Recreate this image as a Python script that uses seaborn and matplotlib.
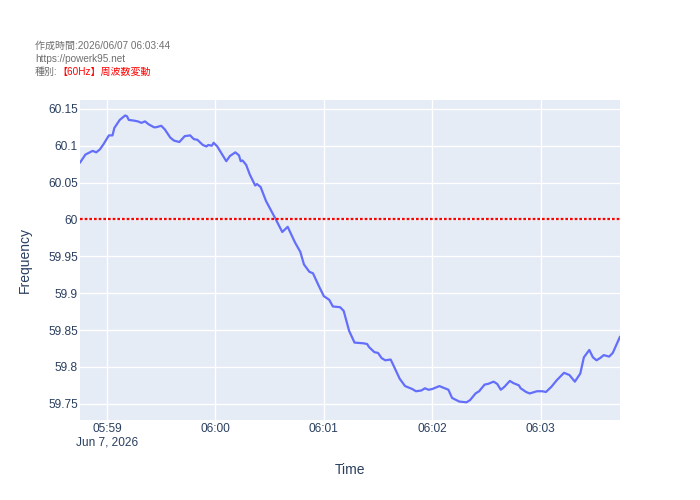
"""
周波数変動チャート (Plotly 風) を seaborn / matplotlib で再現する。
"""

import matplotlib
matplotlib.use("Agg")
import matplotlib.pyplot as plt
import matplotlib.dates as mdates
import matplotlib.ticker as mticker
import numpy as np
import pandas as pd
import seaborn as sns

# データ (2026-06-07)
times = [
    "05:58:45", "05:58:48", "05:58:52", "05:58:54", "05:58:56", "05:58:58", "05:59:01", "05:59:03", "05:59:04", "05:59:07",
    "05:59:10", "05:59:11", "05:59:12", "05:59:15", "05:59:17", "05:59:19", "05:59:21", "05:59:23", "05:59:26", "05:59:27",
    "05:59:30", "05:59:32", "05:59:35", "05:59:37", "05:59:40", "05:59:43", "05:59:46", "05:59:48", "05:59:50", "05:59:53",
    "05:59:55", "05:59:56", "05:59:58", "05:59:59", "06:00:01", "06:00:03", "06:00:06", "06:00:08", "06:00:11", "06:00:13",
    "06:00:14", "06:00:15", "06:00:17", "06:00:19", "06:00:22", "06:00:23", "06:00:25", "06:00:28", "06:00:33", "06:00:37",
    "06:00:40", "06:00:44", "06:00:47", "06:00:49", "06:00:52", "06:00:54", "06:00:57", "06:01:00", "06:01:03", "06:01:05",
    "06:01:09", "06:01:11", "06:01:14", "06:01:17", "06:01:22", "06:01:24", "06:01:25", "06:01:28", "06:01:30", "06:01:32",
    "06:01:34", "06:01:37", "06:01:38", "06:01:42", "06:01:45", "06:01:49", "06:01:51", "06:01:54", "06:01:56", "06:01:58",
    "06:02:00", "06:02:04", "06:02:09", "06:02:11", "06:02:15", "06:02:19", "06:02:21", "06:02:24", "06:02:26", "06:02:29",
    "06:02:31", "06:02:34", "06:02:36", "06:02:38", "06:02:40", "06:02:43", "06:02:45", "06:02:48", "06:02:49", "06:02:52",
    "06:02:54", "06:02:58", "06:03:01", "06:03:03", "06:03:06", "06:03:09", "06:03:13", "06:03:16", "06:03:19", "06:03:22",
    "06:03:24", "06:03:27", "06:03:29", "06:03:31", "06:03:33", "06:03:35", "06:03:38", "06:03:40", "06:03:44",
]
frequency = [
    60.077, 60.088, 60.093, 60.091, 60.095, 60.102, 60.114, 60.114, 60.124, 60.135,
    60.141, 60.140, 60.135, 60.134, 60.133, 60.131, 60.133, 60.129, 60.125, 60.125,
    60.127, 60.122, 60.111, 60.107, 60.105, 60.113, 60.114, 60.109, 60.108, 60.101,
    60.099, 60.101, 60.100, 60.104, 60.099, 60.091, 60.079, 60.086, 60.091, 60.087,
    60.079, 60.080, 60.074, 60.061, 60.046, 60.048, 60.044, 60.025, 60.002, 59.983,
    59.990, 59.969, 59.956, 59.939, 59.929, 59.927, 59.911, 59.896, 59.891, 59.882,
    59.881, 59.876, 59.849, 59.833, 59.832, 59.831, 59.827, 59.820, 59.819, 59.812,
    59.809, 59.810, 59.805, 59.784, 59.774, 59.770, 59.767, 59.768, 59.771, 59.769,
    59.770, 59.774, 59.769, 59.758, 59.753, 59.752, 59.755, 59.764, 59.767, 59.776,
    59.777, 59.780, 59.777, 59.769, 59.773, 59.781, 59.778, 59.775, 59.771, 59.766,
    59.764, 59.767, 59.767, 59.766, 59.773, 59.782, 59.792, 59.789, 59.780, 59.791,
    59.813, 59.823, 59.813, 59.809, 59.812, 59.816, 59.814, 59.819, 59.841,
]
date_str = "2026-06-07"
nominal_hz = 60.0
y_ticks = [59.75, 59.8, 59.85, 59.9, 59.95, 60.0, 60.05, 60.1, 60.15]

header_lines = ["作成時間:2026/06/07 06:03:44", "https://powerk95.net"]
kind_label = "種別:"
kind_value = "【60Hz】周波数変動"

df = pd.DataFrame({
    "Time": pd.to_datetime([f"{date_str} {t}" for t in times]),
    "Frequency": frequency,
})

# Plotly 風スタイル
sns.set_style("darkgrid", {
    "axes.facecolor": "#E5ECF6",
    "grid.color": "white",
    "axes.edgecolor": "#E5ECF6",
})
plt.rcParams["font.family"] = ["Liberation Sans", "Noto Sans CJK JP", "DejaVu Sans"]

fig = plt.figure(figsize=(7, 5), dpi=100)
ax = fig.add_axes([80 / 700, 80 / 500, 540 / 700, 320 / 500])

sns.lineplot(data=df, x="Time", y="Frequency", ax=ax, color="#636EFA", linewidth=1.6)
ax.axhline(nominal_hz, color="red", linewidth=1.6, linestyle=(0, (1.2, 0.9)))

ax.set_xlim(df["Time"].iloc[0], df["Time"].iloc[-1])
ax.set_ylim(59.728, 60.162)

# 軸
ax.set_yticks(y_ticks)
ax.yaxis.set_major_formatter(mticker.FuncFormatter(
    lambda v, p: f"{v:.2f}".rstrip("0").rstrip(".")))
ax.xaxis.set_major_locator(mdates.MinuteLocator())


def fmt_time(v, pos):
    d = mdates.num2date(v)
    label = d.strftime("%H:%M")
    if pos == 0:
        label += "\n" + d.strftime("%b ") + str(d.day) + d.strftime(", %Y")
    return label


ax.xaxis.set_major_formatter(mticker.FuncFormatter(fmt_time))
ax.tick_params(axis="both", length=0, labelsize=8.6, colors="#2a3f5f")
ax.tick_params(axis="y", pad=1.5)
ax.tick_params(axis="x", pad=2)
ax.grid(True, color="white", linewidth=1)
for s in ax.spines.values():
    s.set_visible(False)

ax.set_xlabel("Time", fontsize=10, color="#2a3f5f", va="center")
ax.set_ylabel("Frequency", fontsize=10, color="#2a3f5f", va="center")
ax.xaxis.set_label_coords(0.5, -0.156)
ax.yaxis.set_label_coords(-0.102, 0.5)

# ヘッダー注記
gray = "#6f6f6f"
fig.text(35 / 700, 1 - 46 / 500, header_lines[0], fontsize=7.2, color=gray, va="center")
fig.text(35 / 700, 1 - 59 / 500, header_lines[1], fontsize=7.2, color=gray, va="center")
kind = fig.text(35 / 700, 1 - 72 / 500, kind_label, fontsize=7.2, color=gray, va="center")
fig.canvas.draw()
ax.annotate(kind_value, xy=(1, 0.5), xycoords=kind, fontsize=7.2, color="red",
            va="center", ha="left")

plt.savefig("out.png", dpi=100)
plt.close()
print("Saved: out.png")
